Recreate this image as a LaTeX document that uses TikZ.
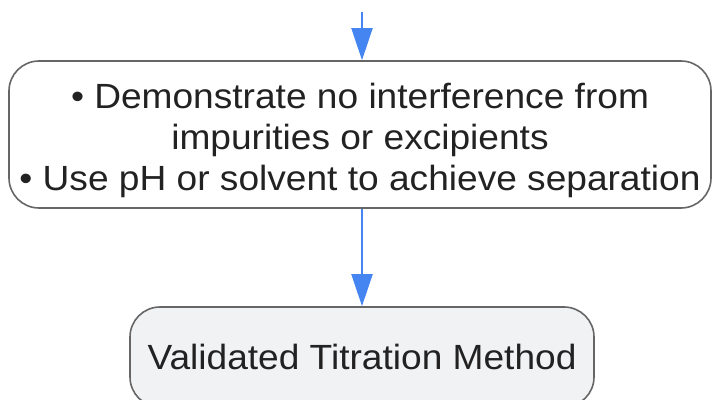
\documentclass[tikz,border=0pt]{standalone}
\usepackage{fontspec}
\setmainfont{Liberation Sans}[FakeStretch=1.06]
\usetikzlibrary{arrows.meta}
\definecolor{flowblue}{HTML}{4485F1}
\definecolor{boxline}{HTML}{666666}
\definecolor{boxfill}{HTML}{F1F2F4}
\definecolor{inktext}{HTML}{222222}
\tikzset{
  steptext/.style={align=center, text=inktext, inner sep=0pt, font=\fontsize{35}{41.3}\selectfont},
  stepnode/.style={draw=boxline, line width=1.6pt, rounded corners=30pt, steptext},
  flowarrow/.style={draw=flowblue, line width=2pt, -{Triangle[length=32pt,width=21pt]}}
}
\begin{document}
\begin{tikzpicture}[x=1pt,y=1pt]
		%%%%% START %%%%%
		
		\useasboundingbox (0, 0) rectangle (714, 399);
		
		\coordinate (entry) at (362, 387);
		
		\node[stepnode, fill=white, minimum width=702pt, minimum height=147pt,
			label={[steptext, yshift=-6pt]center:{\textbullet{} Demonstrate no interference from\\impurities or excipients\\\textbullet{} Use pH or solvent to achieve separation}}]
			(checks) at (360, 264.5) {};
		
		\node[stepnode, fill=boxfill, minimum width=464pt, minimum height=100pt] (validated) at (362, 42)
			{Validated Titration Method};
		
		\draw[flowarrow] (entry) -- (entry |- checks.north);
		\draw[flowarrow] (entry |- checks.south) -- (entry |- validated.north);
		
		%%%%% END %%%%%
\end{tikzpicture}
\end{document}
